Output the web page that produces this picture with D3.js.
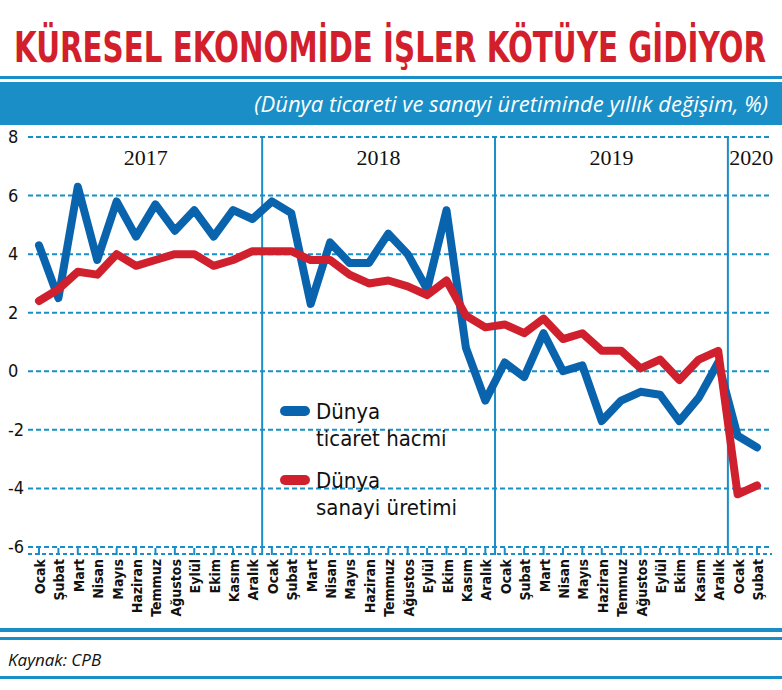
<!DOCTYPE html><html><head><meta charset="utf-8"><script src="https://cdn.jsdelivr.net/npm/d3@7"></script>
<style>body{margin:0;background:#fff}svg{display:block}</style></head><body>
<script>
const months=["Ocak","Şubat","Mart","Nisan","Mayıs","Haziran","Temmuz","Ağustos","Eylül","Ekim","Kasım","Aralık"];
const labels=[...months,...months,...months,"Ocak","Şubat"];
const years=["2017","2018","2019","2020"];
const trade=[4.3,2.5,6.3,3.8,5.8,4.6,5.7,4.8,5.5,4.6,5.5,5.2,5.8,5.4,2.3,4.4,3.7,3.7,4.7,4.0,2.8,5.5,0.8,-1.0,0.3,-0.2,1.3,0.0,0.2,-1.7,-1.0,-0.7,-0.8,-1.7,-0.9,0.3,-2.2,-2.6];
const industry=[2.4,2.8,3.4,3.3,4.0,3.6,3.8,4.0,4.0,3.6,3.8,4.1,4.1,4.1,3.8,3.8,3.3,3.0,3.1,2.9,2.6,3.1,1.9,1.5,1.6,1.3,1.8,1.1,1.3,0.7,0.7,0.1,0.4,-0.3,0.4,0.7,-4.2,-3.9];
const yTicks=[8,6,4,2,0,-2,-4,-6];
const W=782,H=690,BLUE="#1a8fc7",NAR="'DejaVu Sans Condensed','DejaVu Sans',sans-serif";
const svg=d3.select("body").append("svg").attr("width",W).attr("height",H);
svg.append("text").attr("x",14).attr("y",62).attr("font-family",NAR).attr("font-weight","bold").attr("font-size",42).attr("fill","#d21f2b").attr("textLength",752).attr("lengthAdjust","spacingAndGlyphs").text("KÜRESEL EKONOMİDE İŞLER KÖTÜYE GİDİYOR");
svg.append("rect").attr("x",0).attr("y",76).attr("width",W).attr("height",3).attr("fill",BLUE);
svg.append("rect").attr("x",0).attr("y",82).attr("width",W).attr("height",43).attr("fill",BLUE);
svg.append("text").attr("x",768).attr("y",112).attr("text-anchor","end").attr("font-family","'Open Sans',sans-serif").attr("font-style","italic").attr("font-size",22).attr("fill","#fff").text("(Dünya ticareti ve sanayi üretiminde yıllık değişim, %)");
const x=d3.scalePoint().domain(d3.range(labels.length)).range([39,757]);
const xc=v=>39+v*x.step();
const y=d3.scaleLinear().domain([-6,8]).range([547,137]);
const step=x.step();
svg.append("g").selectAll("line").data(yTicks).join("line").attr("x1",28).attr("x2",772).attr("y1",d=>y(d)).attr("y2",d=>y(d)).attr("stroke",BLUE).attr("stroke-width",2).attr("stroke-dasharray","5,3");
svg.append("g").selectAll("text").data(yTicks).join("text").attr("x",8).attr("y",d=>y(d)+6).attr("font-family",NAR).attr("font-size",18).attr("fill","#111").text(d=>d);
[12,24,36].forEach(i=>svg.append("line").attr("x1",x(i)-step/2).attr("x2",x(i)-step/2).attr("y1",y(8)).attr("y2",555).attr("stroke",BLUE).attr("stroke-width",2));
const yc=[xc(5.5),xc(17.5),xc(29.5),xc(36.5)+4];
svg.append("g").selectAll("text").data(years).join("text").attr("x",(d,i)=>yc[i]).attr("y",165).attr("text-anchor","middle").attr("font-family","'Liberation Serif',serif").attr("font-size",22).attr("fill","#111").text(d=>d);
svg.append("g").selectAll("line").data(d3.range(labels.length)).join("line").attr("x1",d=>x(d)).attr("x2",d=>x(d)).attr("y1",548).attr("y2",555).attr("stroke",BLUE).attr("stroke-width",2);
svg.append("line").attr("x1",28).attr("x2",772).attr("y1",554).attr("y2",554).attr("stroke",BLUE).attr("stroke-width",2).attr("stroke-dasharray","4,3");
svg.append("g").selectAll("text").data(labels).join("text").attr("transform",(d,i)=>`translate(${x(i)+6},559) rotate(-90)`).attr("text-anchor","end").attr("font-family",NAR).attr("font-weight","bold").attr("font-size",14).attr("fill","#111").text(d=>d);
const line=d3.line().x((d,i)=>x(i)).y(d=>y(d));
svg.append("path").datum(trade).attr("d",line).attr("fill","none").attr("stroke","#0a64ad").attr("stroke-width",8).attr("stroke-linejoin","round").attr("stroke-linecap","round");
svg.append("path").datum(industry).attr("d",line).attr("fill","none").attr("stroke","#d0202e").attr("stroke-width",8).attr("stroke-linejoin","round").attr("stroke-linecap","round");
const leg=[["Dünya","ticaret hacmi","#0a64ad",411],["Dünya","sanayi üretimi","#d0202e",480]];
leg.forEach(l=>{svg.append("line").attr("x1",285).attr("x2",305).attr("y1",l[3]).attr("y2",l[3]).attr("stroke",l[2]).attr("stroke-width",10).attr("stroke-linecap","round");
svg.append("text").attr("x",316).attr("y",l[3]+8).attr("font-family",NAR).attr("font-size",22).attr("fill","#111").text(l[0]);
svg.append("text").attr("x",316).attr("y",l[3]+35).attr("font-family",NAR).attr("font-size",22).attr("fill","#111").text(l[1]);});
svg.append("rect").attr("x",0).attr("y",628).attr("width",W).attr("height",4).attr("fill",BLUE);
svg.append("rect").attr("x",0).attr("y",637).attr("width",W).attr("height",3).attr("fill",BLUE);
svg.append("text").attr("x",8).attr("y",666).attr("font-family","'Open Sans',sans-serif").attr("font-style","italic").attr("font-size",17).attr("fill","#111").text("Kaynak: CPB");
svg.append("rect").attr("x",0).attr("y",676).attr("width",W).attr("height",3).attr("fill",BLUE);
</script></body></html>
